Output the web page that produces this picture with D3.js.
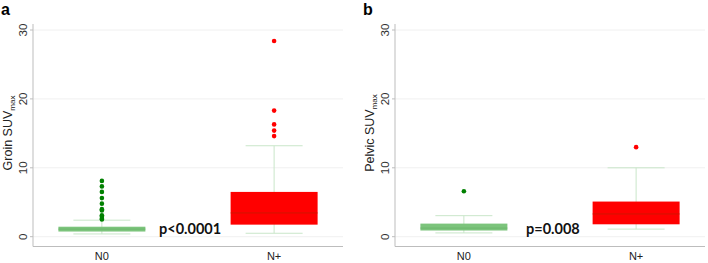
<!DOCTYPE html>
<html>
<head>
<meta charset="utf-8">
<script src="https://cdn.jsdelivr.net/npm/d3@7"></script>
<style>
  body { margin: 0; background: #fff; }
  svg { display: block; }
</style>
</head>
<body>
<div id="canvas"></div>
<script>
"use strict";

/**** DATA ****/
let groups = ["N0", "N+"];
let yTicks = [0, 10, 20, 30];

// panel a: groin SUVmax
let groinStats = [
    { low: 0.4, q1: 0.75, median: 1.1, q3: 1.45, high: 2.4 },
    { low: 0.5, q1: 1.75, median: 3.45, q3: 6.5, high: 13.2 }
];
let groinOutliers = [
    [8.1, 7.3, 6.5, 5.6, 4.8, 4.0, 3.8, 3.1, 2.9, 2.6, 2.5],
    [28.4, 18.3, 16.3, 15.4, 14.6]
];

// panel b: pelvic SUVmax
let pelvicStats = [
    { low: 0.55, q1: 0.9, median: 1.25, q3: 1.9, high: 3.05 },
    { low: 1.1, q1: 1.8, median: 3.3, q3: 5.1, high: 10.0 }
];
let pelvicOutliers = [
    [6.6],
    [13.0]
];

let pValues = ["p<0.0001", "p=0.008"];

/**** CONFIG ****/
let svgWidth = 708;
let svgHeight = 263;

let boxColors = ["#7cc47c", "#ff0000"];
let medianColors = ["#6ab46a", "#c41a00"];
let dotColors = ["#008000", "#ff0000"];
let whiskerColor = "#c9e6c9";

let svg = d3.select("#canvas")
    .append("svg")
    .attr("width", svgWidth)
    .attr("height", svgHeight);

let yScale = d3.scaleLinear()
    .domain([0, 30])
    .range([236.7, 30]);

function drawPanel(offsetX, letter, label, stats, outliers, pText, pX) {
    let g = svg.append("g").attr("transform", `translate(${offsetX},0)`);

    let axisLeft = 33;
    let axisRight = 343;

    let xScale = d3.scalePoint()
        .domain(groups)
        .range([axisLeft, axisRight])
        .padding(0.4);

    let boxW = 87;
    let capW = 57;

    /* grid lines */
    g.selectAll(".grid")
        .data(yTicks)
        .join("line")
        .attr("x1", axisLeft)
        .attr("x2", axisRight)
        .attr("y1", d => yScale(d))
        .attr("y2", d => yScale(d))
        .attr("stroke", "#f0f0f0");

    /* axis lines */
    g.append("line")
        .attr("x1", axisLeft).attr("x2", axisLeft)
        .attr("y1", 24).attr("y2", 246.5)
        .attr("stroke", "#bdbdbd");
    g.append("line")
        .attr("x1", axisLeft).attr("x2", axisRight)
        .attr("y1", 246.5).attr("y2", 246.5)
        .attr("stroke", "#bdbdbd");

    /* y ticks */
    g.selectAll(".tick")
        .data(yTicks)
        .join("line")
        .attr("x1", axisLeft - 3)
        .attr("x2", axisLeft)
        .attr("y1", d => yScale(d))
        .attr("y2", d => yScale(d))
        .attr("stroke", "#bdbdbd");

    g.selectAll(".ticklabel")
        .data(yTicks)
        .join("text")
        .attr("transform", d => `translate(27,${yScale(d)}) rotate(-90)`)
        .attr("text-anchor", "middle")
        .style("font-family", "Liberation Sans, Arial, sans-serif")
        .style("font-size", "11.5px")
        .style("fill", "#333")
        .text(d => d);

    /* boxes */
    groups.forEach(function(grp, i) {
        let s = stats[i];
        let cx = xScale(grp);

        // whisker stem
        g.append("line")
            .attr("x1", cx).attr("x2", cx)
            .attr("y1", yScale(s.low)).attr("y2", yScale(s.high))
            .attr("stroke", whiskerColor);

        // caps
        [s.low, s.high].forEach(function(v) {
            g.append("line")
                .attr("x1", cx - capW / 2).attr("x2", cx + capW / 2)
                .attr("y1", yScale(v)).attr("y2", yScale(v))
                .attr("stroke", whiskerColor);
        });

        g.append("rect")
            .attr("x", cx - boxW / 2)
            .attr("width", boxW)
            .attr("y", yScale(s.q3))
            .attr("height", yScale(s.q1) - yScale(s.q3))
            .attr("fill", boxColors[i]);

        g.append("line")
            .attr("x1", cx - boxW / 2).attr("x2", cx + boxW / 2)
            .attr("y1", yScale(s.median)).attr("y2", yScale(s.median))
            .attr("stroke", medianColors[i])
            .attr("stroke-width", 0.8);

        g.selectAll(".out" + i)
            .data(outliers[i])
            .join("circle")
            .attr("cx", cx)
            .attr("cy", d => yScale(d))
            .attr("r", 2.3)
            .attr("fill", dotColors[i]);

        g.append("text")
            .attr("x", cx)
            .attr("y", 259.5)
            .attr("text-anchor", "middle")
            .style("font-family", "Liberation Sans, Arial, sans-serif")
            .style("font-size", "11px")
            .style("fill", "#222")
            .text(grp);
    });

    /* p value */
    g.append("text")
        .attr("x", pX)
        .attr("y", 233.5)
        .style("font-family", "Lato, sans-serif")
        .style("font-weight", "bold")
        .style("font-size", "14.5px")
        .style("fill", "#111")
        .text(pText);

    /* y axis title */
    let yt = g.append("text")
        .attr("transform", "translate(12,133) rotate(-90)")
        .attr("text-anchor", "middle")
        .style("font-family", "Liberation Sans, Arial, sans-serif")
        .style("font-size", "12.5px")
        .style("fill", "#222");
    yt.append("tspan").text(label + " SUV");
    yt.append("tspan").attr("dy", 3).style("font-size", "8px").text("max");

    /* panel letter */
    g.append("text")
        .attr("x", 1)
        .attr("y", 15)
        .style("font-family", "Liberation Sans, Arial, sans-serif")
        .style("font-weight", "bold")
        .style("font-size", "16px")
        .text(letter);
}

drawPanel(0, "a", "Groin", groinStats, groinOutliers, pValues[0], 159);
drawPanel(362, "b", "Pelvic", pelvicStats, pelvicOutliers, pValues[1], 164);
</script>
</body>
</html>
